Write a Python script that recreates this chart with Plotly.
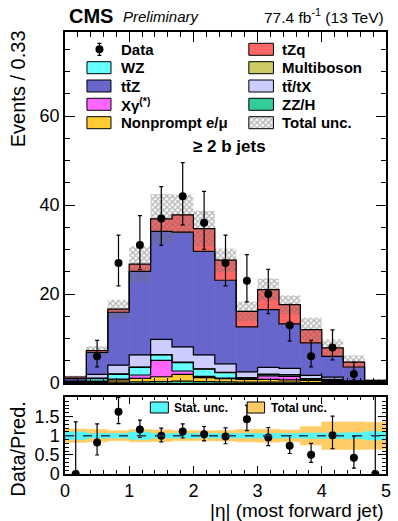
import numpy as np
import plotly.graph_objects as go

# ---------------- data ----------------
bin_edges = np.linspace(0.0, 5.0, 16)
bin_centers = 0.5 * (bin_edges[:-1] + bin_edges[1:])
bin_width = bin_edges[1] - bin_edges[0]

# process yields per bin (stacked from bottom to top)
zzh        = [0.05, 0.15, 0.2, 0.25, 0.3, 0.4, 0.3, 0.25, 0.2, 0.2, 0.2, 0.1, 0.1, 0.05, 0.02]
nonprompt  = [0.05, 0.15, 0.5, 0.8, 1.1, 1.55, 0.9, 0.75, 0.6, 0.6, 0.5, 0.5, 0.2, 0.1, 0.03]
xgamma     = [0.05, 0.15, 0.2, 0.75, 3.7, 0.75, 0.3, 0.1, 0.1, 0.8, 0.8, 0.1, 0.1, 0.05, 0.03]
wz         = [0.1, 0.55, 1.05, 1.7, 1.2, 1.9, 1.6, 1.2, 0.2, 0.3, 0.3, 0.2, 0.2, 0.1, 0.04]
multiboson = [0.05, 0.1, 0.1, 0.1, 0.1, 0.1, 0.1, 0.1, 0.1, 0.1, 0.1, 0.1, 0.2, 0.05, 0.03]
ttx        = [0.15, 0.85, 1.95, 2.7, 3.4, 3.4, 3.1, 1.9, 1.3, 1.5, 1.4, 0.7, 0.5, 0.15, 0.1]
ttz        = [0.55, 4.95, 11.9, 18.8, 24.3, 25.8, 23.3, 18.8, 10.1, 13.0, 10.0, 7.3, 4.7, 3.1, 0.25]
tzq        = [0.35, 0.4, 0.7, 1.6, 2.8, 3.9, 5.1, 4.5, 3.5, 4.5, 4.3, 3.0, 1.9, 1.1, 0.1]

total_unc  = [0.3, 1.0, 2.1, 4.0, 5.6, 4.5, 4.0, 2.6, 2.2, 2.5, 2.1, 2.7, 1.9, 1.5, 0.3]

data_counts = [0, 6, 27, 31, 37, 42, 36, 27, 23, 20, 13, 6, 8, 2, 0]
data_err_dn = [0.0, 2.38, 5.17, 5.53, 6.06, 6.46, 5.97, 5.17, 4.77, 4.43, 3.58, 2.38, 2.78, 1.29, 0.0]
data_err_up = [1.84, 3.58, 6.26, 6.62, 7.15, 7.55, 7.06, 6.26, 5.86, 5.53, 4.70, 3.58, 3.96, 2.64, 1.84]

ratio_total_unc = [0.175, 0.16, 0.13, 0.16, 0.15, 0.13, 0.13, 0.14, 0.16, 0.17, 0.15, 0.24, 0.36, 0.36, 0.35]
ratio_stat_unc  = [0.10, 0.06, 0.06, 0.10, 0.06, 0.06, 0.06, 0.06, 0.06, 0.06, 0.06, 0.07, 0.07, 0.08, 0.11]

processes = [
    ("ZZ/H", zzh, "#33cc99"),
    ("Nonprompt e/μ", nonprompt, "#ffcc33"),
    ("Xγ<sup>(*)</sup>", xgamma, "#ff66ff"),
    ("WZ", wz, "#66ffff"),
    ("Multiboson", multiboson, "#cccc66"),
    ("tt\u0304/tX", ttx, "#ccccff"),
    ("tt\u0304Z", ttz, "#6666cc"),
    ("tZq", tzq, "#ff6666"),
]

FONT = "Liberation Sans, Arial, Helvetica, sans-serif"
HATCH = dict(shape="x", fgcolor="#6e6e6e", bgcolor="rgba(0,0,0,0)", size=4, solidity=0.6)

# pixel -> paper helpers (plot area 65..391 x 32..474)
L, R, T, B = 65, 391, 32, 474
def PX(p):
    return (p - L) / (R - L)
def PY(p):
    return (B - p) / (B - T)

fig = go.Figure()

# ---------------- main stacked histogram ----------------
cum = np.zeros(len(bin_centers))
tops = []
for name, vals, col in processes:
    v = np.array(vals)
    fig.add_trace(go.Bar(x=bin_centers, y=v, base=cum.copy(), width=bin_width,
                         marker=dict(color=col, line=dict(width=0.6, color=col)),
                         xaxis="x", yaxis="y", showlegend=False, hoverinfo="skip"))
    cum = cum + v
    tops.append(cum.copy())

for top in tops:
    fig.add_trace(go.Scatter(x=bin_edges, y=np.append(top, top[-1]), mode="lines",
                             line=dict(color="black", width=1.2, shape="hv"),
                             xaxis="x", yaxis="y", showlegend=False, hoverinfo="skip"))

total = cum
unc = np.array(total_unc)
fig.add_trace(go.Bar(x=bin_centers, y=2 * unc, base=total - unc, width=bin_width,
                     marker=dict(color="rgba(0,0,0,0)", line=dict(width=0), pattern=HATCH),
                     xaxis="x", yaxis="y", showlegend=False, hoverinfo="skip"))

dc = np.array(data_counts, dtype=float)
mask = dc > 0
fig.add_trace(go.Scatter(x=bin_centers[mask], y=dc[mask], mode="markers",
                         marker=dict(color="black", size=8),
                         error_y=dict(type="data", symmetric=False,
                                      array=np.array(data_err_up)[mask],
                                      arrayminus=np.array(data_err_dn)[mask],
                                      color="black", thickness=1.2, width=2),
                         xaxis="x", yaxis="y", showlegend=False, hoverinfo="skip"))

# ---------------- ratio panel ----------------
rt = np.array(ratio_total_unc)
rs = np.array(ratio_stat_unc)
fig.add_trace(go.Bar(x=bin_centers, y=2 * rt, base=1 - rt, width=bin_width,
                     marker=dict(color="#ffcc66", line=dict(width=0.6, color="#ffcc66")),
                     xaxis="x2", yaxis="y2", showlegend=False, hoverinfo="skip"))
fig.add_trace(go.Bar(x=bin_centers, y=2 * rs, base=1 - rs, width=bin_width,
                     marker=dict(color="#55f5f5", line=dict(width=0.6, color="#55f5f5")),
                     xaxis="x2", yaxis="y2", showlegend=False, hoverinfo="skip"))

ratio = dc / total
fig.add_trace(go.Scatter(x=bin_centers, y=ratio, mode="markers",
                         marker=dict(color="black", size=8),
                         error_y=dict(type="data", symmetric=False,
                                      array=np.array(data_err_up) / total,
                                      arrayminus=np.array(data_err_dn) / total,
                                      color="black", thickness=1.2, width=2),
                         xaxis="x2", yaxis="y2", showlegend=False, hoverinfo="skip"))

# ---------------- legend (pixel-coordinate helper axes) ----------------
fig.add_trace(go.Bar(x=[264.2], y=[12], base=[116.7], width=25,
                     marker=dict(color="rgba(0,0,0,0)", line=dict(color="black", width=1),
                                 pattern=dict(HATCH, bgcolor="white")),
                     xaxis="x3", yaxis="y3", showlegend=False, hoverinfo="skip"))
fig.add_trace(go.Scatter(x=[100], y=[49.3], mode="markers",
                         marker=dict(color="black", size=8),
                         error_y=dict(type="constant", value=6, color="black", thickness=1.2, width=2),
                         xaxis="x3", yaxis="y3", showlegend=False, hoverinfo="skip"))

shapes = []
annotations = []

def key_box(x0, x1, yc, color):
    shapes.append(dict(type="rect", xref="paper", yref="paper",
                       x0=PX(x0), x1=PX(x1), y0=PY(yc + 6), y1=PY(yc - 6),
                       fillcolor=color, line=dict(color="black", width=1), layer="above"))

def label(x, y, text, size=15, bold=True, anchor="left"):
    annotations.append(dict(xref="paper", yref="paper", x=PX(x), y=PY(y),
                            text=("<b>%s</b>" % text) if bold else text,
                            showarrow=False, xanchor=anchor, yanchor="middle",
                            font=dict(family=FONT, size=size, color="black")))

col = {n: c for n, _, c in processes}
rows = [49.3, 67.7, 86.0, 104.3, 122.7]
left_items = [None, "WZ", "tt\u0304Z", "Xγ<sup>(*)</sup>", "Nonprompt e/μ"]
right_items = ["tZq", "Multiboson", "tt\u0304/tX", "ZZ/H", None]
label(120, rows[0], "Data")
for r, n in zip(rows, left_items):
    if n:
        key_box(87.3, 111.7, r, col[n])
        label(120, r, n)
for r, n in zip(rows, right_items):
    if n:
        key_box(251.7, 276.7, r, col[n])
        label(283, r, n)
label(283, rows[4], "Total unc.")

# ratio legend
shapes.append(dict(type="rect", xref="paper", yref="paper", x0=PX(151.7), x1=PX(170), y0=PY(413), y1=PY(402),
                   fillcolor="#55f5f5", line=dict(color="black", width=1), layer="above"))
shapes.append(dict(type="rect", xref="paper", yref="paper", x0=PX(250), x1=PX(267.7), y0=PY(413), y1=PY(402),
                   fillcolor="#ffcc66", line=dict(color="black", width=1), layer="above"))
label(173.5, 408, "Stat. unc.", size=12)
label(271.7, 408, "Total unc.", size=12)

# dashed line at 1
shapes.append(dict(type="line", xref="x2", yref="y2", x0=0, x1=5, y0=1, y1=1,
                   line=dict(color="#1f3b5a", width=1.5, dash="dash"), layer="above"))

# header texts
label(67, 16, "CMS", size=20)
annotations.append(dict(xref="paper", yref="paper", x=PX(122), y=PY(17), text="<i>Preliminary</i>",
                        showarrow=False, xanchor="left", yanchor="middle",
                        font=dict(family=FONT, size=15, color="black")))
annotations.append(dict(xref="paper", yref="paper", x=PX(391), y=PY(16),
                        text="77.4 fb<sup>-1</sup> (13 TeV)",
                        showarrow=False, xanchor="right", yanchor="middle",
                        font=dict(family=FONT, size=15.5, color="black")))
label(232.5, 146, "≥ 2 b jets", size=17, anchor="center")

# axis titles
annotations.append(dict(xref="paper", yref="paper", x=PX(17), y=PY(28), text="Events / 0.33",
                        textangle=-90, showarrow=False, xanchor="center", yanchor="top",
                        font=dict(family=FONT, size=20, color="black")))
annotations.append(dict(xref="paper", yref="paper", x=PX(17), y=PY(399), text="Data/Pred.",
                        textangle=-90, showarrow=False, xanchor="center", yanchor="top",
                        font=dict(family=FONT, size=20, color="black")))
annotations.append(dict(xref="paper", yref="paper", x=PX(391), y=PY(511), text="|η| (most forward jet)",
                        showarrow=False, xanchor="right", yanchor="middle",
                        font=dict(family=FONT, size=19, color="black")))

axis_common = dict(showgrid=False, zeroline=False, showline=True, linecolor="black", linewidth=1.5,
                   mirror="ticks", ticks="inside", tickcolor="black", tickwidth=1,
                   tickfont=dict(family=FONT, size=18, color="black"), fixedrange=True)

main_bottom = (B - 383) / (B - T)
ratio_top = (B - 396.7) / (B - T)

fig.update_layout(
    width=398, height=521,
    margin=dict(l=L, r=398 - R, t=T, b=521 - B),
    paper_bgcolor="white", plot_bgcolor="rgba(0,0,0,0)",
    barmode="overlay", showlegend=False,
    font=dict(family=FONT, color="black"),
    xaxis=dict(axis_common, domain=[0, 1], range=[0, 5], anchor="y", showticklabels=False,
               tick0=0, dtick=1, ticklen=10,
               minor=dict(dtick=0.2, ticklen=5, ticks="inside", tickcolor="black")),
    yaxis=dict(axis_common, domain=[main_bottom, 1], range=[0, 78.9], anchor="x",
               tick0=0, dtick=20, ticklen=10,
               minor=dict(dtick=5, ticklen=5, ticks="inside", tickcolor="black")),
    xaxis2=dict(axis_common, domain=[0, 1], range=[0, 5], anchor="y2",
                tick0=0, dtick=1, ticklen=8,
                minor=dict(dtick=0.2, ticklen=4, ticks="inside", tickcolor="black")),
    yaxis2=dict(axis_common, domain=[0, ratio_top], range=[0, 2.02], anchor="x2",
                tickvals=[0, 0.5, 1, 1.5], ticktext=["0", "0.5", "1", "1.5"], ticklen=8,
                minor=dict(dtick=0.1, ticklen=4, ticks="inside", tickcolor="black")),
    xaxis3=dict(domain=[0, 1], range=[L, R], anchor="y3", visible=False, fixedrange=True),
    yaxis3=dict(domain=[0, 1], range=[B, T], anchor="x3", visible=False, fixedrange=True),
    shapes=shapes, annotations=annotations,
)

fig.write_html("out.html", config={"displayModeBar": False},
               post_script="document.body.style.margin='0px';document.body.style.padding='0px';")
